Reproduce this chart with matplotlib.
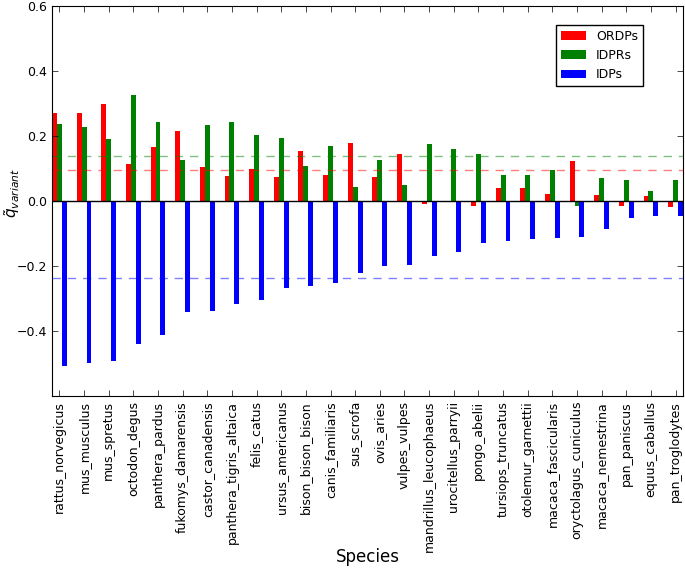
import numpy as np
import matplotlib
matplotlib.use("Agg")
import matplotlib.pyplot as plt

species = ["rattus_norvegicus", "mus_musculus", "mus_spretus", "octodon_degus",
           "panthera_pardus", "fukomys_damarensis", "castor_canadensis",
           "panthera_tigris_altaica", "felis_catus", "ursus_americanus",
           "bison_bison_bison", "canis_familiaris", "sus_scrofa", "ovis_aries",
           "vulpes_vulpes", "mandrillus_leucophaeus", "urocitellus_parryii",
           "pongo_abelii", "tursiops_truncatus", "otolemur_garnettii",
           "macaca_fascicularis", "oryctolagus_cuniculus", "macaca_nemestrina",
           "pan_paniscus", "equus_caballus", "pan_troglodytes"]

ordps = [0.270, 0.270, 0.299, 0.114, 0.167, 0.214, 0.104, 0.075, 0.097, 0.073,
         0.154, 0.081, 0.178, 0.072, 0.145, -0.009, -0.005, -0.015, 0.040, 0.038,
         0.021, 0.122, 0.019, -0.015, 0.015, -0.019]
idprs = [0.237, 0.227, 0.190, 0.325, 0.242, 0.125, 0.233, 0.241, 0.204, 0.194,
         0.108, 0.168, 0.042, 0.127, 0.049, 0.174, 0.159, 0.143, 0.081, 0.078,
         0.095, -0.015, 0.069, 0.065, 0.031, 0.064]
idps = [-0.508, -0.499, -0.491, -0.440, -0.411, -0.342, -0.338, -0.317, -0.304,
        -0.268, -0.263, -0.251, -0.223, -0.201, -0.196, -0.169, -0.157, -0.130,
        -0.122, -0.117, -0.115, -0.110, -0.088, -0.053, -0.047, -0.046]

# medias de referencia (lineas discontinuas)
mean_ordps = 0.095
mean_idprs = 0.139
mean_idps = -0.237

fig = plt.figure(figsize=(6.85, 5.69), dpi=100)
ax = fig.add_axes([0.076, 0.304, 0.921, 0.686])

x = np.arange(len(species))
w = 0.2
ax.bar(x - w, ordps, w, color="red", label="ORDPs", linewidth=0)
ax.bar(x, idprs, w, color="green", label="IDPRs", linewidth=0)
ax.bar(x + w, idps, w, color="blue", label="IDPs", linewidth=0)

ax.axhline(0, color="black", linewidth=1)
ax.axhline(mean_ordps, color="red", linestyle=(0, (6, 5)), alpha=0.5, linewidth=1)
ax.axhline(mean_idprs, color="green", linestyle=(0, (6, 5)), alpha=0.5, linewidth=1)
ax.axhline(mean_idps, color="blue", linestyle=(0, (6, 5)), alpha=0.5, linewidth=1)

ax.set_xlim(-0.3, len(species) - 0.7)
ax.set_ylim(-0.6, 0.6)
ax.set_yticks([-0.4, -0.2, 0.0, 0.2, 0.4, 0.6])
ax.set_yticklabels(["\u22120.4", "\u22120.2", "0.0", "0.2", "0.4", "0.6"])
ax.set_xticks(x)
ax.set_xticklabels(species, rotation=90)
ax.tick_params(direction="in", top=True, right=True, labelsize=9, length=4, width=0.5)

ax.set_xlabel("Species", fontsize=12)
ax.xaxis.set_label_coords(0.5, -0.39)
ax.set_ylabel(r"$\tilde{q}_{variant}$", fontsize=11)
ax.yaxis.set_label_coords(-0.048, 0.52)

ax.legend(loc="upper right", bbox_to_anchor=(0.937, 0.951), borderaxespad=0,
          fontsize=9, fancybox=False, edgecolor="black", framealpha=1)

fig.savefig("out.png", dpi=100)
